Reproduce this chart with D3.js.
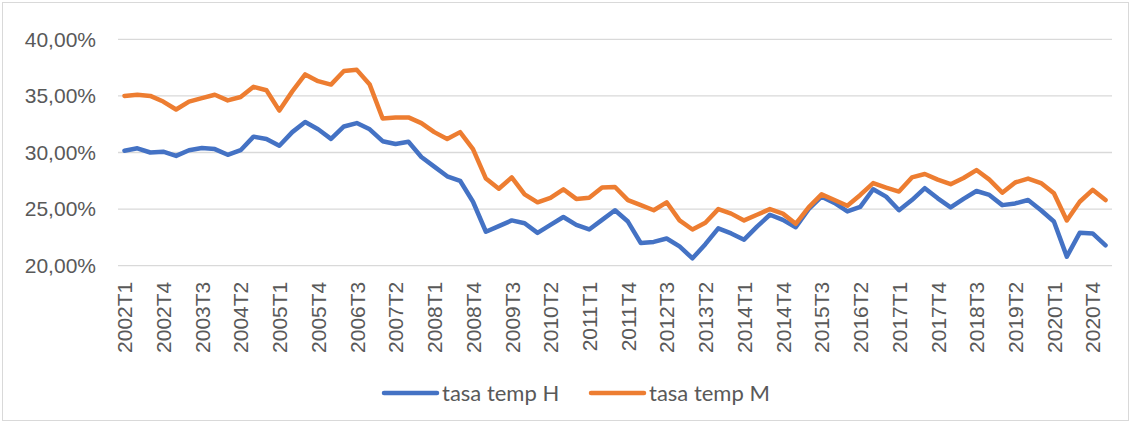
<!DOCTYPE html>
<html>
<head>
<meta charset="utf-8">
<script src="https://cdn.jsdelivr.net/npm/d3@7"></script>
<style>
  body { margin: 0; background: #fff; }
  svg { display: block; font-family: Lato, "Open Sans", sans-serif; }
</style>
</head>
<body>
<div id="chart"></div>
<script>
// quarters 2002T1 .. 2021T1
var years = d3.range(2002, 2022);
var quarters = [];
years.forEach(function(y) {
    ['T1', 'T2', 'T3', 'T4'].forEach(function(q) { quarters.push(y + q); });
});
quarters = quarters.slice(0, 77);

var tasaH = [
    30.16, 30.37, 30.0, 30.07, 29.7, 30.2, 30.4, 30.3, 29.8, 30.2,
    31.4, 31.2, 30.6, 31.8, 32.7, 32.05, 31.2, 32.3, 32.6, 32.05,
    31.0, 30.75, 30.95, 29.6, 28.75, 27.9, 27.5, 25.65, 23.0, 23.5,
    24.0, 23.75, 22.9, 23.6, 24.3, 23.6, 23.2, 24.05, 24.9, 23.9,
    22.0, 22.1, 22.4, 21.7, 20.65, 21.9, 23.3, 22.85, 22.3, 23.45,
    24.5, 24.05, 23.4, 25.0, 26.1, 25.55, 24.8, 25.2, 26.75, 26.1,
    24.9, 25.8, 26.85, 25.95, 25.15, 25.9, 26.6, 26.25, 25.35, 25.5,
    25.8, 24.9, 23.9, 20.8, 22.9, 22.85, 21.8
];

var tasaM = [
    35.0, 35.1, 35.0, 34.5, 33.8, 34.5, 34.8, 35.1, 34.6, 34.9,
    35.8, 35.5, 33.7, 35.4, 36.9, 36.3, 36.0, 37.2, 37.3, 36.0,
    33.0, 33.1, 33.1, 32.6, 31.8, 31.2, 31.8, 30.3, 27.7, 26.8,
    27.8, 26.3, 25.6, 26.0, 26.75, 25.9, 26.0, 26.9, 26.95, 25.8,
    25.35, 24.9, 25.6, 24.0, 23.2, 23.8, 25.0, 24.6, 24.0, 24.5,
    25.0, 24.6, 23.7, 25.15, 26.3, 25.8, 25.3, 26.25, 27.3, 26.9,
    26.55, 27.8, 28.1, 27.6, 27.2, 27.75, 28.45, 27.6, 26.45, 27.35,
    27.7, 27.3, 26.4, 24.0, 25.65, 26.7, 25.8
];

var yTicks = [20, 25, 30, 35, 40];
var seriesNames = ['tasa temp H', 'tasa temp M'];
var colors = ['#4472C4', '#ED7D31'];

var W = 1131, H = 423;
var svg = d3.select('#chart').append('svg')
    .attr('width', W)
    .attr('height', H);

// chart area border
svg.append('rect')
    .attr('x', 2.5).attr('y', 2.5)
    .attr('width', W - 5).attr('height', H - 5)
    .attr('fill', '#fff')
    .attr('stroke', '#d9d9d9');

var x = d3.scalePoint()
    .domain(quarters)
    .range([118, 1112])
    .padding(0.5);

var y = d3.scaleLinear()
    .domain([20, 40])
    .range([265.7, 39.3]);

// gridlines
svg.append('g')
    .selectAll('line')
    .data(yTicks)
    .enter().append('line')
    .attr('x1', 118).attr('x2', 1112)
    .attr('y1', d => y(d)).attr('y2', d => y(d))
    .attr('stroke', '#d9d9d9')
    .attr('stroke-width', 1.3);

// y axis labels
var yAxis = svg.append('g')
    .attr('transform', 'translate(118,0)')
    .call(d3.axisLeft(y)
        .tickValues(yTicks)
        .tickSize(0)
        .tickPadding(22)
        .tickFormat(d => d.toFixed(2).replace('.', ',') + '%'));
yAxis.select('.domain').remove();
yAxis.selectAll('text')
    .attr('fill', '#595959')
    .style('font-size', '21px');

// x axis labels, every third quarter
var xAxis = svg.append('g')
    .attr('transform', 'translate(0,' + y(20) + ')')
    .call(d3.axisBottom(x)
        .tickValues(quarters.filter((d, i) => i % 3 === 0))
        .tickSize(0)
        .tickPadding(0));
xAxis.select('.domain').remove();
xAxis.selectAll('text')
    .attr('fill', '#595959')
    .style('font-size', '21px')
    .attr('text-anchor', 'end')
    .attr('dy', '0.35em')
    .attr('transform', 'translate(0,16) rotate(-90)')
    .attr('x', 0).attr('y', 0);

var line = d3.line()
    .x((d, i) => x(quarters[i]))
    .y(d => y(d));

[tasaH, tasaM].forEach(function(s, k) {
    svg.append('path')
        .datum(s)
        .attr('fill', 'none')
        .attr('stroke', colors[k])
        .attr('stroke-width', 4.5)
        .attr('stroke-linejoin', 'round')
        .attr('stroke-linecap', 'round')
        .attr('d', line);
});

// legend
var legendX = [384, 591];
var legend = svg.append('g')
    .selectAll('g')
    .data(seriesNames)
    .enter().append('g')
    .attr('transform', (d, i) => 'translate(' + legendX[i] + ',393)');
legend.append('line')
    .attr('x1', 0).attr('x2', 53)
    .attr('stroke', (d, i) => colors[i])
    .attr('stroke-width', 4.5)
    .attr('stroke-linecap', 'round');
legend.append('text')
    .attr('x', 58)
    .attr('dy', '0.35em')
    .attr('fill', '#595959')
    .style('font-size', '22px')
    .text(d => d);
</script>
</body>
</html>
